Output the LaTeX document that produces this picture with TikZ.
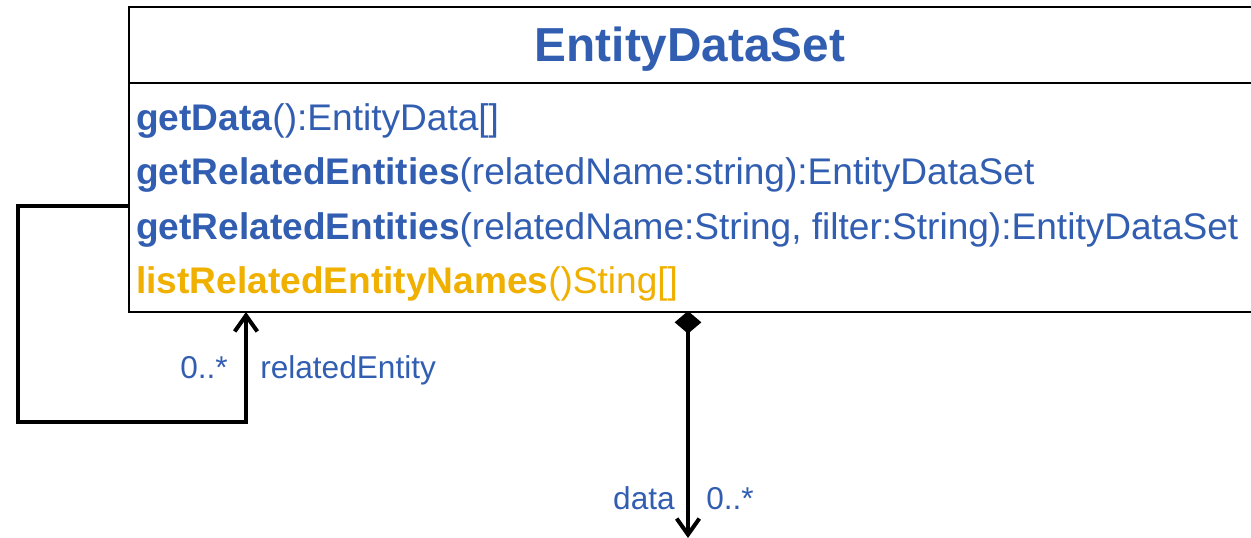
\documentclass[tikz,border=0pt]{standalone}
\usepackage{fontspec}
\setmainfont{Liberation Sans}
\usetikzlibrary{arrows.meta}
\definecolor{umlblue}{RGB}{50,94,178}
\definecolor{umlgold}{RGB}{240,176,0}
\begin{document}
\begin{tikzpicture}[x=0.75pt,y=-0.75pt,
  classbox/.style={draw=black, line width=1.6pt, fill=white, anchor=north west, inner sep=0pt, minimum width=900pt, minimum height=228.75pt},
  titletext/.style={font=\fontsize{35.8}{40}\selectfont\bfseries, text=umlblue, anchor=base, inner sep=0pt},
  optext/.style={font=\fontsize{27.8}{32}\selectfont, text=umlblue, anchor=base west, inner sep=0pt},
  gold/.style={text=umlgold},
  lbl/.style={font=\fontsize{23.7}{28}\selectfont, text=umlblue, inner sep=0pt},
  conn/.style={draw=black, line width=3.4pt, line join=miter},
  openhead/.style={-{Straight Barb[length=12pt,width=17pt,line width=3pt]}},
]
\useasboundingbox (0,0) rectangle (1251,538);
\node[classbox] (cls) at (128,6) {};
\draw[line width=2.2pt] (128,83) -- (1300,83);
\node[titletext] (title) at (690,62) {EntityDataSet};
\node[optext] (op1) at (136,131) {\textbf{getData}():EntityData[]};
\node[optext] (op2) at (136,185) {\textbf{getRelatedEntities}(relatedName:string):EntityDataSet};
\node[optext] (op3) at (136,239) {\textbf{getRelatedEntities}(relatedName:String, filter:String):EntityDataSet};
\node[optext, gold] (op4) at (136,293) {\textbf{listRelatedEntityNames}()Sting[]};
% self association
\coordinate (loopStart) at (128,206);
\coordinate (loopEnd) at (246,312);
\draw[conn, openhead] (loopStart) -- (18,206) -- (18,422) -- (246,422) -- (loopEnd);
\node[lbl, anchor=base east] (m1) at (228,378) {0..*};
\node[lbl, anchor=base west] (r1) at (260,378) {relatedEntity};
% composition
\coordinate (compStart) at (688,311);
\coordinate (compEnd) at (688,538);
\draw[conn, {Diamond[length=17pt,width=20pt,line width=0pt,fill=black]}-{Straight Barb[length=12pt,width=17pt,line width=3pt]}] (compStart) -- (compEnd);
\node[lbl, anchor=base east] (r2) at (675,509) {data};
\node[lbl, anchor=base west] (m2) at (706,509) {0..*};
\end{tikzpicture}
\end{document}
